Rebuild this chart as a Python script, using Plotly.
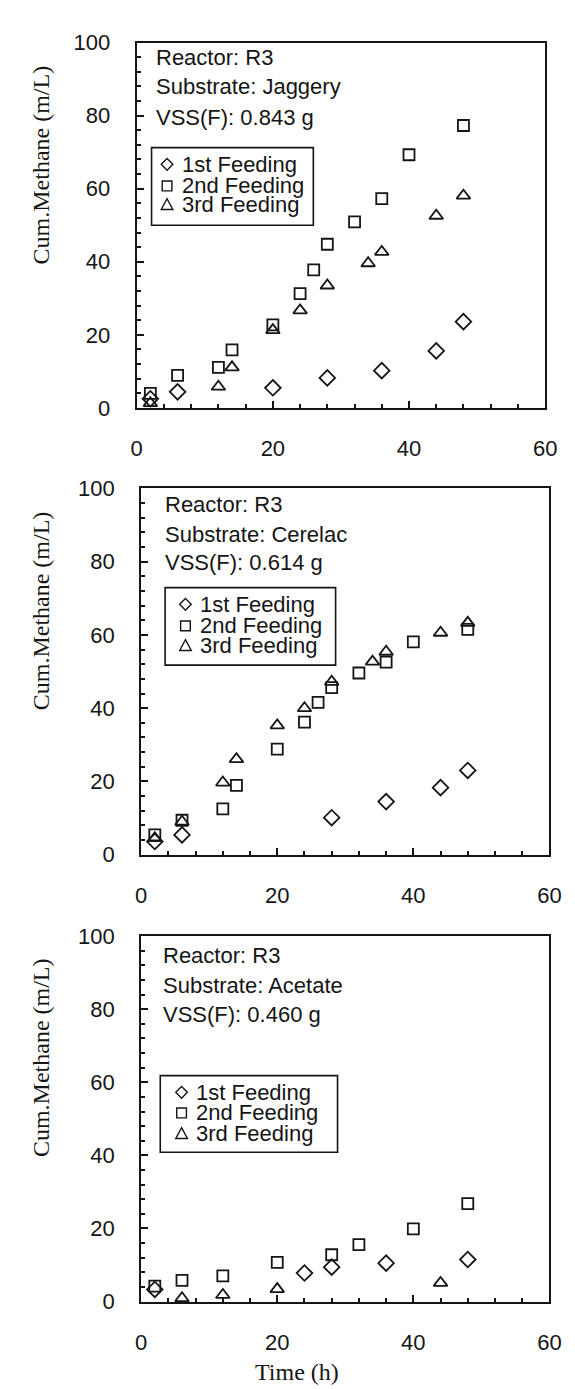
import plotly.graph_objects as go

W, H = 575, 1389

# ---------------- data (time h, cumulative methane) ----------------
# Panel 1: Jaggery
jag_t1 = [2, 6, 20, 28, 36, 44, 48]
jag_v1 = [2.5, 4.4, 5.5, 8.2, 10.2, 15.6, 23.6]
jag_t2 = [2, 6, 12, 14, 20, 24, 26, 28, 32, 36, 40, 48]
jag_v2 = [4.0, 8.9, 11.1, 15.9, 22.7, 31.3, 37.8, 44.8, 50.9, 57.3, 69.3, 77.3]
jag_t3 = [2, 12, 14, 20, 24, 28, 34, 36, 44, 48]
jag_v3 = [1.3, 5.8, 11.1, 21.3, 26.7, 33.5, 39.6, 42.7, 52.6, 58.1]

# Panel 2: Cerelac
cer_t1 = [2, 6, 28, 36, 44, 48]
cer_v1 = [3.6, 5.4, 10.1, 14.5, 18.3, 23.0]
cer_t2 = [2, 6, 12, 14, 20, 24, 26, 28, 32, 36, 40, 48]
cer_v2 = [5.4, 9.4, 12.5, 18.9, 28.8, 36.2, 41.6, 45.6, 49.6, 52.6, 58.1, 61.5]
cer_t3 = [2, 6, 12, 14, 20, 24, 28, 34, 36, 44, 48]
cer_v3 = [4.5, 9.0, 19.7, 26.1, 35.3, 40.0, 47.2, 52.7, 55.4, 60.6, 63.3]

# Panel 3: Acetate
ace_t1 = [2, 24, 28, 36, 48]
ace_v1 = [3.3, 7.8, 9.4, 10.5, 11.5]
ace_t2 = [2, 6, 12, 20, 28, 32, 40, 48]
ace_v2 = [4.2, 5.8, 7.0, 10.7, 12.8, 15.6, 19.9, 26.8]
ace_t3 = [6, 12, 20, 44]
ace_v3 = [0.9, 1.8, 3.4, 5.1]

series_names = ["1st Feeding", "2nd Feeding", "3rd Feeding"]
x_ticks = [0, 20, 40, 60]
y_ticks = [0, 20, 40, 60, 80, 100]
y_title = "Cum.Methane (m/L)"
x_title = "Time (h)"

panel_info = [
    dict(reactor="Reactor: R3", substrate="Substrate: Jaggery", vss="VSS(F): 0.843 g",
         data=[(jag_t1, jag_v1), (jag_t2, jag_v2), (jag_t3, jag_v3)]),
    dict(reactor="Reactor: R3", substrate="Substrate: Cerelac", vss="VSS(F): 0.614 g",
         data=[(cer_t1, cer_v1), (cer_t2, cer_v2), (cer_t3, cer_v3)]),
    dict(reactor="Reactor: R3", substrate="Substrate: Acetate", vss="VSS(F): 0.460 g",
         data=[(ace_t1, ace_v1), (ace_t2, ace_v2), (ace_t3, ace_v3)]),
]

# ---------------- layout geometry (pixels) ----------------
boxes = [
    dict(x0=126.7, x1=548.3, y0=23, y1=395),
    dict(x0=131.3, x1=552.7, y0=477, y1=850),
    dict(x0=131.3, x1=552.7, y0=933, y1=1305),
]
text_pos = [  # left x, line centres y
    dict(x=145, ys=[38, 68, 99]),
    dict(x=154, ys=[493, 524, 552]),
    dict(x=152, ys=[953, 983, 1013]),
]
legend_pos = [  # box + line centres
    dict(bx0=142, bx1=309, by0=130, by1=209, sx=158, tx=171, ys=[147, 169, 188]),
    dict(bx0=156, bx1=332, by0=578, by1=657, sx=177, tx=190, ys=[595, 617, 637]),
    dict(bx0=151, bx1=334, by0=1075, by1=1153, sx=173, tx=186, ys=[1092, 1113, 1134]),
]
ytitle_pos = [148, 602, 1057]


def px(x):
    return x / W


def py(y):
    return 1 - y / H


INK = "#151515"
SANS = "Liberation Sans, Arial, sans-serif"
SERIF = "Liberation Serif, Times New Roman, serif"
symbols = ["diamond-open", "square-open", "triangle-up-open"]
sizes = [12, 11, 12]

fig = go.Figure()
annotations = []
shapes = []

for i, (info, b) in enumerate(zip(panel_info, boxes)):
    k = "" if i == 0 else str(i + 1)
    xa, ya = "x" + k, "y" + k
    for j, (t, v) in enumerate(info["data"]):
        fig.add_trace(go.Scatter(
            x=t, y=v, mode="markers", name=series_names[j], showlegend=False,
            xaxis=xa, yaxis=ya, cliponaxis=False,
            marker=dict(symbol=symbols[j], size=sizes[j], color=INK,
                        line=dict(width=1.8, color=INK)),
        ))
    common = dict(showline=True, mirror=True, linewidth=2, linecolor=INK,
                  showgrid=False, zeroline=False, ticks="inside", tickwidth=1.5,
                  tickcolor=INK, ticklen=7,
                  tickfont=dict(family=SANS, size=22, color=INK))
    fig.layout["xaxis" + k] = dict(
        common, domain=[px(b["x0"]), px(b["x1"])], range=[0, 60],
        tickvals=x_ticks, anchor=ya, ticklabelstandoff=20,
        minor=dict(ticks="inside", dtick=4, tick0=0, ticklen=4, tickwidth=1.5, tickcolor=INK),
    )
    fig.layout["yaxis" + k] = dict(
        common, domain=[py(b["y1"]), py(b["y0"])], range=[0, 100],
        tickvals=y_ticks, anchor=xa, ticklabelstandoff=20,
        minor=dict(ticks="inside", dtick=4, tick0=0, ticklen=4, tickwidth=1.5, tickcolor=INK),
    )

    # info text
    tp = text_pos[i]
    for txt, yy in zip([info["reactor"], info["substrate"], info["vss"]], tp["ys"]):
        annotations.append(dict(text=txt, x=px(tp["x"]), y=py(yy), xref="paper", yref="paper",
                                xanchor="left", yanchor="middle", showarrow=False,
                                font=dict(family=SANS, size=22, color=INK)))
    # legend box
    lp = legend_pos[i]
    shapes.append(dict(type="rect", xref="paper", yref="paper",
                       x0=px(lp["bx0"]), x1=px(lp["bx1"]), y0=py(lp["by1"]), y1=py(lp["by0"]),
                       line=dict(color=INK, width=1.6)))
    for j, yy in enumerate(lp["ys"]):
        annotations.append(dict(text=series_names[j], x=px(lp["tx"]), y=py(yy),
                                xref="paper", yref="paper", xanchor="left", yanchor="middle",
                                showarrow=False, font=dict(family=SANS, size=22, color=INK)))
        cx, cy = lp["sx"], yy
        if j == 0:
            path = "M {},{} L {},{} L {},{} L {},{} Z".format(
                px(cx), py(cy - 6), px(cx + 6), py(cy), px(cx), py(cy + 6), px(cx - 6), py(cy))
        elif j == 1:
            path = "M {},{} L {},{} L {},{} L {},{} Z".format(
                px(cx - 5), py(cy - 5), px(cx + 5), py(cy - 5), px(cx + 5), py(cy + 5), px(cx - 5), py(cy + 5))
        else:
            path = "M {},{} L {},{} L {},{} Z".format(
                px(cx), py(cy - 6), px(cx + 6), py(cy + 5), px(cx - 6), py(cy + 5))
        shapes.append(dict(type="path", xref="paper", yref="paper", path=path,
                           line=dict(color=INK, width=1.4)))

    annotations.append(dict(text=y_title, x=px(28), y=py(ytitle_pos[i]), xref="paper", yref="paper",
                            xanchor="center", yanchor="middle", textangle=-90, showarrow=False,
                            font=dict(family=SERIF, size=24, color=INK)))

annotations.append(dict(text=x_title, x=px(292), y=py(1377), xref="paper", yref="paper",
                        xanchor="center", yanchor="middle", showarrow=False,
                        font=dict(family=SERIF, size=24, color=INK)))

fig.update_layout(
    width=W, height=H, margin=dict(l=0, r=0, t=0, b=0, pad=0),
    paper_bgcolor="white", plot_bgcolor="white",
    annotations=annotations, shapes=shapes, showlegend=False,
)

fig.write_html("out.html")
